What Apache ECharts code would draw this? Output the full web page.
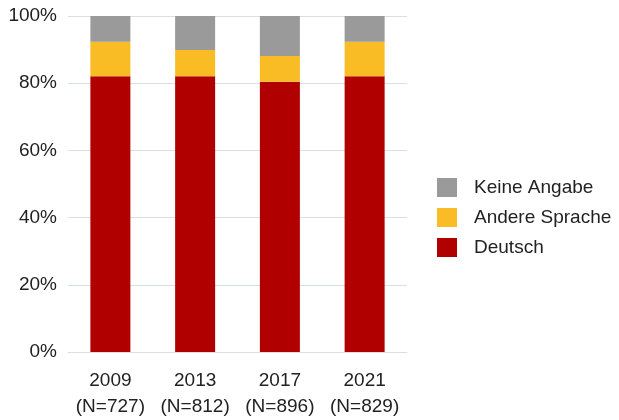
<!DOCTYPE html>
<html>
<head>
<meta charset="utf-8">
<script src="https://cdn.jsdelivr.net/npm/echarts@6/dist/echarts.min.js"></script>
<style>
  html, body { margin: 0; padding: 0; background: #fff; }
  #chart { width: 619px; height: 420px; }
</style>
</head>
<body>
<div id="chart"></div>
<script>
// values in percent
const years = ['2009', '2013', '2017', '2021']
const counts = ['727', '812', '896', '829']
const deutsch = [82.1, 82.1, 80.4, 82.1]
const andereSprache = [10.2, 7.8, 7.7, 10.2]
const keineAngabe = [7.7, 10.1, 11.9, 7.7]

const categories = years.map((y, i) => y + '\n(N=' + counts[i] + ')')

const chart = echarts.init(document.getElementById('chart'))
const font = 'Liberation Sans, Arial, sans-serif'
const gridColor = '#d6e0e7'

chart.setOption({
  animation: false,
  textStyle: { fontFamily: font },
  grid: { left: 68, right: 212, top: 16, bottom: 67, containLabel: false },
  xAxis: {
    type: 'category',
    data: categories,
    axisLine: { lineStyle: { color: gridColor, width: 1 } },
    axisTick: { show: false },
    axisLabel: { color: '#222', fontSize: 19, lineHeight: 26, margin: 16, interval: 0, fontFamily: font }
  },
  yAxis: {
    type: 'value',
    min: 0,
    max: 100,
    interval: 20,
    axisLine: { show: false },
    axisTick: { show: false },
    splitLine: { lineStyle: { color: gridColor, width: 1 } },
    axisLabel: { color: '#222', fontSize: 19, margin: 11, formatter: '{value}%', fontFamily: font }
  },
  legend: {
    orient: 'vertical',
    left: 432,
    top: 173,
    itemWidth: 20,
    itemHeight: 19,
    itemGap: 11,
    icon: 'rect',
    data: ['Keine Angabe', 'Andere Sprache', 'Deutsch'],
    textStyle: { color: '#222', fontSize: 19, fontFamily: font, padding: [0, 0, 0, 12] }
  },
  series: [
    {
      name: 'Deutsch', type: 'bar', stack: 'total', barWidth: 40,
      itemStyle: { color: '#b00000' },
      data: deutsch
    },
    {
      name: 'Andere Sprache', type: 'bar', stack: 'total', barWidth: 40,
      itemStyle: { color: '#f9bc24' },
      data: andereSprache
    },
    {
      name: 'Keine Angabe', type: 'bar', stack: 'total', barWidth: 40,
      itemStyle: { color: '#9a9a9a' },
      data: keineAngabe
    }
  ]
})
</script>
</body>
</html>
